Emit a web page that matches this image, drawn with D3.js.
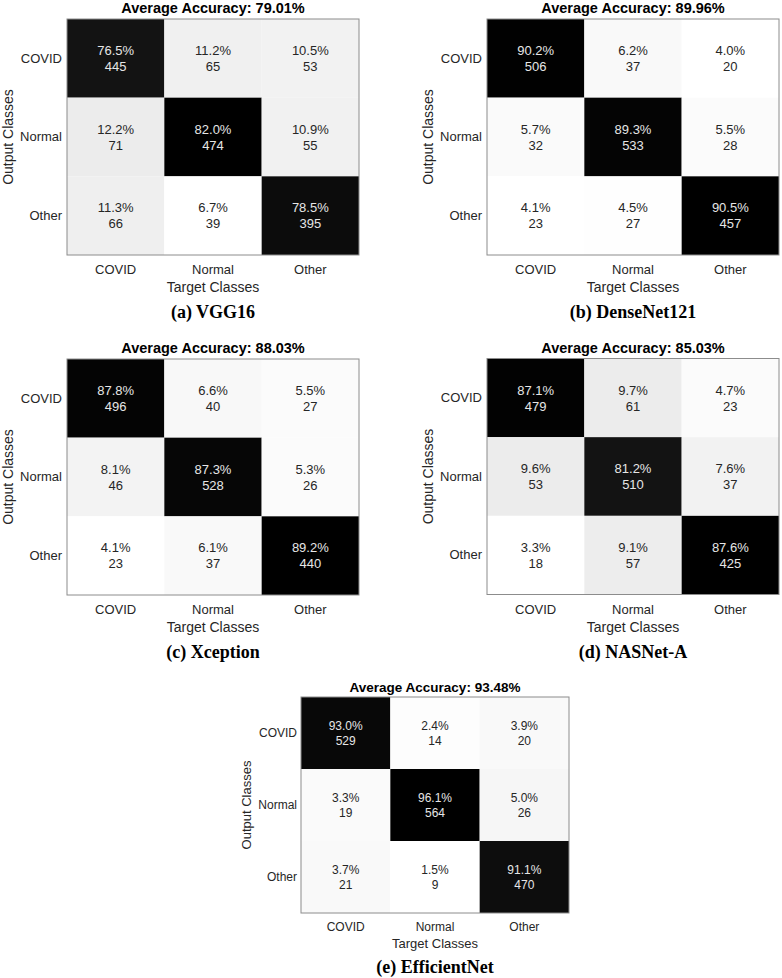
<!DOCTYPE html>
<html>
<head>
<meta charset="utf-8">
<script src="https://cdn.jsdelivr.net/npm/d3@7"></script>
<style>
  body { margin: 0; background: #fff; }
  svg { display: block; }
  .tick text { fill: #262626; }
</style>
</head>
<body>
<div id="chart"></div>
<script>
// classes and per-model results
const classes = ['COVID', 'Normal', 'Other'];
const captions = ['(a) VGG16', '(b) DenseNet121', '(c) Xception', '(d) NASNet-A', '(e) EfficientNet'];
const accuracy = [79.01, 89.96, 88.03, 85.03, 93.48];

// rows = output class, columns = target class
const vgg16Counts = [[445, 65, 53], [71, 474, 55], [66, 39, 395]];
const vgg16Pct = [[76.5, 11.2, 10.5], [12.2, 82.0, 10.9], [11.3, 6.7, 78.5]];
const denseNetCounts = [[506, 37, 20], [32, 533, 28], [23, 27, 457]];
const denseNetPct = [[90.2, 6.2, 4.0], [5.7, 89.3, 5.5], [4.1, 4.5, 90.5]];
const xceptionCounts = [[496, 40, 27], [46, 528, 26], [23, 37, 440]];
const xceptionPct = [[87.8, 6.6, 5.5], [8.1, 87.3, 5.3], [4.1, 6.1, 89.2]];
const nasNetCounts = [[479, 61, 23], [53, 510, 37], [18, 57, 425]];
const nasNetPct = [[87.1, 9.7, 4.7], [9.6, 81.2, 7.6], [3.3, 9.1, 87.6]];
const efficientCounts = [[529, 14, 20], [19, 564, 26], [21, 9, 470]];
const efficientPct = [[93.0, 2.4, 3.9], [3.3, 96.1, 5.0], [3.7, 1.5, 91.1]];

const counts = [vgg16Counts, denseNetCounts, xceptionCounts, nasNetCounts, efficientCounts];
const pcts = [vgg16Pct, denseNetPct, xceptionPct, nasNetPct, efficientPct];

// panel placement (box of the matrix) and text offsets
const big = {
  w: 292, h: 236, font: 13, titleFont: 14.5, labelFont: 14, captionFont: 18,
  titleDy: -6, tickPad: 5, xTickPad: 10, xLabelDy: 37, captionDy: 63, yLabelDx: -54, lineGap: 16,
};
const small = {
  w: 268, h: 216, font: 12, titleFont: 13.5, labelFont: 13, captionFont: 18,
  titleDy: -5, tickPad: 4, xTickPad: 9.5, xLabelDy: 35, captionDy: 60, yLabelDx: -50, lineGap: 15,
};
const layout = [
  { x: 67, y: 19, ...big },
  { x: 487, y: 19, ...big },
  { x: 67, y: 359, ...big },
  { x: 487, y: 358.5, ...big },
  { x: 301, y: 697, ...small },
];

const sans = '"Liberation Sans", Arial, Helvetica, sans-serif';
const serif = '"Liberation Serif", "Times New Roman", serif';

const svg = d3.select('#chart').append('svg')
  .attr('width', 782)
  .attr('height', 978);

layout.forEach((cfg, i) => {
  const g = svg.append('g')
    .attr('transform', `translate(${cfg.x},${cfg.y})`);

  const xScale = d3.scaleBand().domain(classes).range([0, cfg.w]);
  const yScale = d3.scaleBand().domain(classes).range([0, cfg.h]);

  const cells = [];
  pcts[i].forEach((row, r) => row.forEach((p, c) => {
    cells.push({
      row: classes[r], col: classes[c], pct: p, count: counts[i][r][c],
    });
  }));

  // white at the smallest percentage, black at the largest
  const colorScale = d3.scaleLinear()
    .domain(d3.extent(cells, (d) => d.pct))
    .range([1, 0]);
  const grey = (d) => {
    const v = Math.round(255 * colorScale(d.pct));
    return `rgb(${v},${v},${v})`;
  };

  g.selectAll('.cell')
    .data(cells)
    .join('rect')
    .attr('class', 'cell')
    .attr('x', (d) => xScale(d.col))
    .attr('y', (d) => yScale(d.row))
    .attr('width', xScale.bandwidth())
    .attr('height', yScale.bandwidth())
    .attr('fill', grey);

  const label = g.selectAll('.cell-label')
    .data(cells)
    .join('text')
    .attr('class', 'cell-label')
    .attr('text-anchor', 'middle')
    .attr('font-family', sans)
    .attr('font-size', cfg.font)
    .attr('fill', (d) => (colorScale(d.pct) < 0.5 ? '#e6e6e6' : '#262626'));
  label.append('tspan')
    .attr('x', (d) => xScale(d.col) + xScale.bandwidth() / 2)
    .attr('y', (d) => yScale(d.row) + yScale.bandwidth() / 2 - cfg.lineGap / 2 + cfg.font * 0.36)
    .text((d) => `${d.pct.toFixed(1)}%`);
  label.append('tspan')
    .attr('x', (d) => xScale(d.col) + xScale.bandwidth() / 2)
    .attr('y', (d) => yScale(d.row) + yScale.bandwidth() / 2 + cfg.lineGap / 2 + cfg.font * 0.36)
    .text((d) => d.count);

  // border
  g.append('rect')
    .attr('width', cfg.w)
    .attr('height', cfg.h)
    .attr('fill', 'none')
    .attr('stroke', '#8c8c8c')
    .attr('stroke-width', 1);

  // axes
  const yAxisGroup = g.append('g')
    .call(d3.axisLeft(yScale).tickSize(0).tickPadding(cfg.tickPad));
  const xAxisGroup = g.append('g')
    .attr('transform', `translate(0,${cfg.h})`)
    .call(d3.axisBottom(xScale).tickSize(0).tickPadding(cfg.xTickPad));
  [yAxisGroup, xAxisGroup].forEach((ax) => {
    ax.select('.domain').remove();
    ax.selectAll('text')
      .attr('font-family', sans)
      .attr('font-size', cfg.font);
  });

  g.append('text')
    .attr('x', cfg.w / 2)
    .attr('y', cfg.titleDy)
    .attr('text-anchor', 'middle')
    .attr('font-family', sans)
    .attr('font-size', cfg.titleFont)
    .attr('font-weight', 'bold')
    .attr('fill', '#000')
    .text(`Average Accuracy: ${accuracy[i].toFixed(2)}%`);

  g.append('text')
    .attr('x', cfg.w / 2)
    .attr('y', cfg.h + cfg.xLabelDy)
    .attr('text-anchor', 'middle')
    .attr('font-family', sans)
    .attr('font-size', cfg.labelFont)
    .attr('fill', '#262626')
    .text('Target Classes');

  g.append('text')
    .attr('transform', `translate(${cfg.yLabelDx},${cfg.h / 2}) rotate(-90)`)
    .attr('text-anchor', 'middle')
    .attr('font-family', sans)
    .attr('font-size', cfg.labelFont)
    .attr('fill', '#262626')
    .text('Output Classes');

  g.append('text')
    .attr('x', cfg.w / 2)
    .attr('y', cfg.h + cfg.captionDy)
    .attr('text-anchor', 'middle')
    .attr('font-family', serif)
    .attr('font-size', cfg.captionFont)
    .attr('font-weight', 'bold')
    .attr('fill', '#000')
    .text(captions[i]);
});
</script>
</body>
</html>
